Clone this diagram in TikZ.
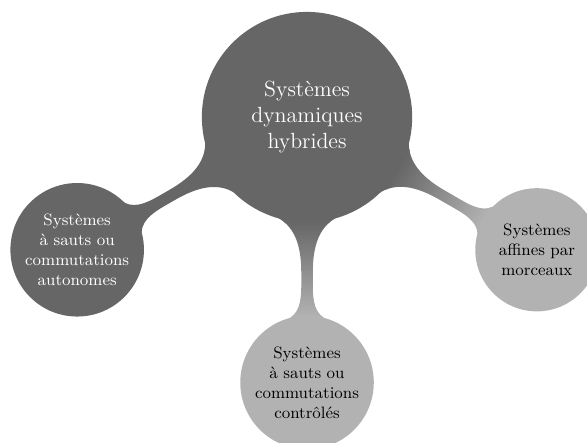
\documentclass[tikz,border=0pt]{standalone}
\usetikzlibrary{mindmap}
\colorlet{sombre}{black!60}
\colorlet{clair}{black!30}

\begin{document}
\begin{tikzpicture}[mindmap, concept color=sombre, text=white,
    level 1 concept/.append style={level distance=5.1cm}]
  \useasboundingbox (-5.9,-6.25) rectangle (5.38,2.25);
  \node[concept] (racine) {Systèmes\\ dynamiques\\ hybrides}
    [counterclockwise from=210]
    child {node[concept] (auto) {Systèmes à sauts ou commutations autonomes}}
    child[concept color=clair, text=black] {node[concept] (ctrl) {Systèmes à sauts ou commutations contrôlés}}
    child[concept color=clair, text=black] {node[concept] (affine) {Systèmes affines par morceaux}};
\end{tikzpicture}
\end{document}
